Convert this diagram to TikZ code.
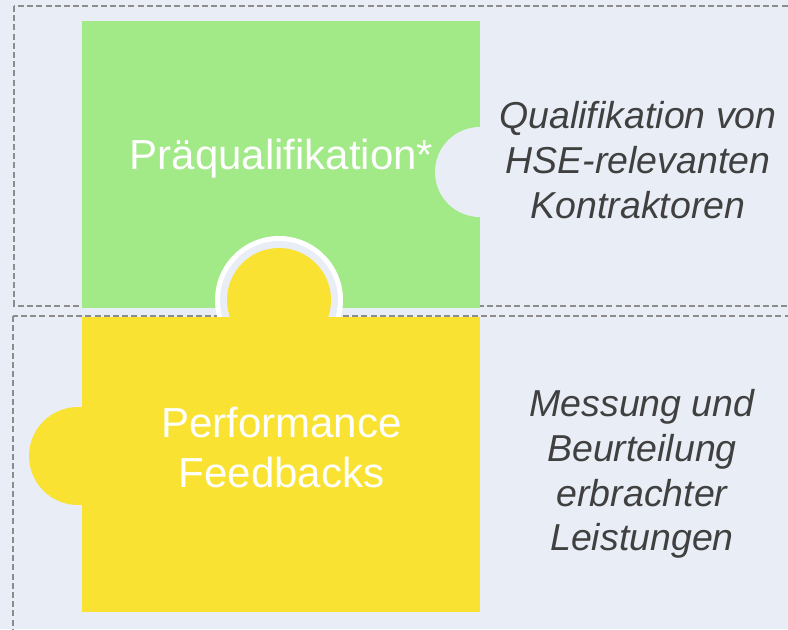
\documentclass[tikz,border=0pt]{standalone}
\usepackage{fontspec}
\setmainfont{Liberation Sans}
\definecolor{bgblue}{RGB}{233,238,246}
\definecolor{puzzlegreen}{RGB}{162,233,135}
\definecolor{puzzleyellow}{RGB}{249,226,50}
\definecolor{notegray}{RGB}{64,64,64}
\definecolor{framegray}{RGB}{140,140,140}
\begin{document}
\begin{tikzpicture}[x=0.5pt, y=-0.5pt,
  frame/.style={draw=framegray, line width=0.6pt, dash pattern=on 3pt off 1.6pt},
  piece/.style={font=\fontsize{21}{25}\selectfont, text=white, align=center, inner sep=0pt},
  note/.style={font=\itshape\fontsize{18.75}{22.4}\selectfont, text=notegray, align=center, inner sep=0pt}]
\useasboundingbox (0,0) rectangle (788,629);
\clip (0,0) rectangle (788,629);
\fill[bgblue] (0,0) rectangle (788,629);
\draw[frame] (14,6) rectangle (800,306);
\draw[frame] (13,316) rectangle (800,640);
\fill[puzzlegreen] (82,21) rectangle (480,308);
\fill[bgblue] (480,172) circle[radius=45];
\fill[white] (279,300) circle[radius=64];
\fill[bgblue] (279,300) circle[radius=59];
\fill[puzzleyellow] (82,317) rectangle (480,612);
\fill[puzzleyellow] (279,300) circle[radius=52];
\fill[puzzleyellow] (78,456) circle[radius=49];
\node[piece, anchor=base] (prequal) at (281.5,169) {Präqualifikation*};
\node[piece] (feedback) at (281.5,447) {Performance\\Feedbacks};
\node[note] (prequalnote) at (638,160) {Qualifikation von\\HSE-relevanten\\Kontraktoren};
\node[note] (feedbacknote) at (642,474) {Messung und\\Beurteilung\\erbrachter\\Leistungen};
\end{tikzpicture}
\end{document}
